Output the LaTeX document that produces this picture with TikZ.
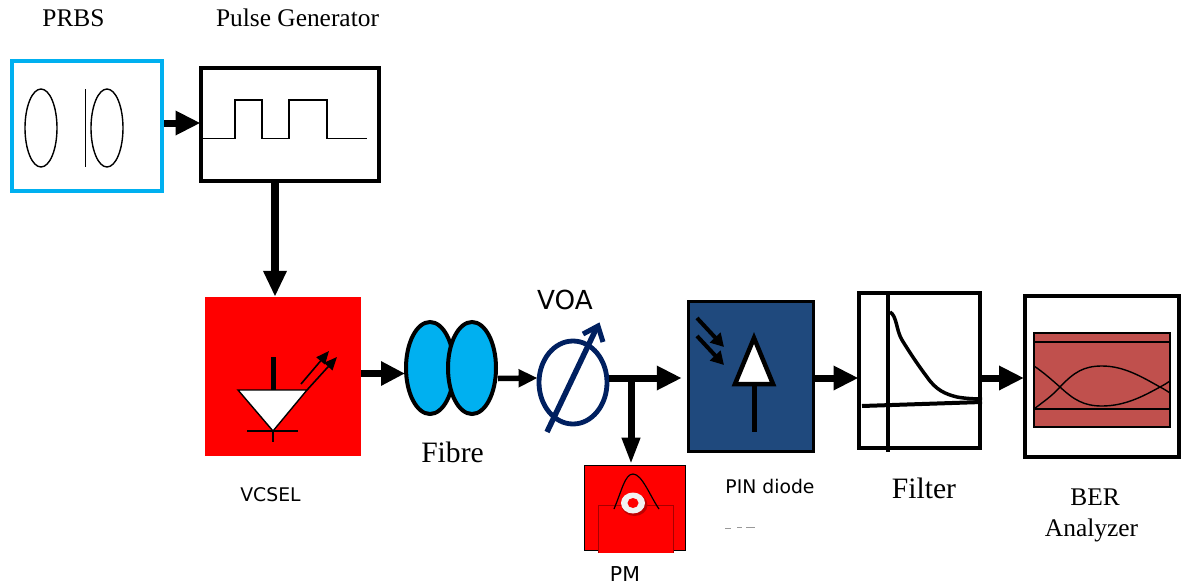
\documentclass[tikz,border=0pt]{standalone}
\usepackage{fontspec}
\setmainfont{Liberation Serif}
\newfontfamily\djv{DejaVu Sans}
\usetikzlibrary{arrows.meta,shapes.geometric}
\definecolor{cyanbox}{HTML}{00B0F0}
\definecolor{navyvoa}{HTML}{002060}
\definecolor{pinblue}{HTML}{1F497D}
\definecolor{berred}{HTML}{C0504D}
\tikzset{
  blockbox/.style={rectangle,draw=black,line width=4pt,inner sep=0pt,fill=white},
  serlab/.style={anchor=base,inner sep=0pt,font=\fontsize{25.4pt}{27pt}\selectfont},
  serbig/.style={anchor=base,inner sep=0pt,font=\fontsize{29.6pt}{31pt}\selectfont},
  sanslab/.style={anchor=base,inner sep=0pt,font=\djv\fontsize{18.8pt}{20pt}\selectfont},
  conn/.style={draw=black,line width=#1},
  conn/.default=7pt,
  thinline/.style={draw=black,line width=1.4pt},
  fibreell/.style={ellipse,draw=black,line width=4pt,fill=cyanbox,inner sep=0pt,minimum width=48pt,minimum height=92pt},
}
\begin{document}
\begin{tikzpicture}[x=1pt,y=-1pt]
\useasboundingbox (0,0) rectangle (1181,584);
\fill[white] (0,0) rectangle (1181,584);
% labels
\node[serlab] (lprbs) at (73.5,26) {PRBS};
\node[serlab] (lpulse) at (297.5,26) {Pulse Generator};
\node[serbig] (lfibre) at (452.5,462.7) {Fibre};
\node[serbig] (lfilter) at (924,498) {Filter};
\node[serlab] (lber) at (1095,505) {BER};
\node[serlab] (lana) at (1091.5,536) {Analyzer};
\node[sanslab] (lvcsel) at (270.5,501) {VCSEL};
\node[sanslab] (lpin) at (770,493) {PIN diode};
\node[anchor=base,inner sep=0pt,font=\djv\fontsize{20.5pt}{22pt}\selectfont] (lpm) at (625,581) {PM};
\node[anchor=base,inner sep=0pt,font=\djv\fontsize{26.2pt}{28pt}\selectfont] (lvoa) at (565,309) {VOA};
% faint remains of a clipped text
\draw[black!40,line width=.8pt] (725,528) -- (731,528) (737,527.5) -- (742,527.5) (746,527.5) -- (755,527.5);
% PRBS
\node[blockbox,draw=cyanbox,minimum width=150pt,minimum height=130pt] (prbs) at (87,125.5) {};
\draw[thinline] (41,128) ellipse [x radius=16,y radius=39];
\draw[thinline] (85.5,89) -- (85.5,167);
\draw[thinline] (107,128) ellipse [x radius=16,y radius=39];
% Pulse generator
\node[blockbox,minimum width=178pt,minimum height=113pt] (pulse) at (289.5,124.5) {};
\draw[thinline] (203,138.5) -- (235,138.5) -- (235,100) -- (262,100) -- (262,138.5) -- (289,138.5) -- (289,100) -- (327,100) -- (327,138.5) -- (367,138.5);
% VCSEL
\node[rectangle,fill=red,inner sep=0pt,minimum width=156pt,minimum height=159pt] (vcsel) at (283,376.5) {};
\draw[black,line width=5pt] (273.5,357) -- (273.5,390);
\draw[black,line width=1.4pt,fill=white] (238,390) -- (307,390) -- (273,431) -- cycle;
\draw[thinline] (247,431) -- (298,431) (273,431) -- (273,442);
\draw[draw=black,line width=1.6pt,-{Triangle[length=13pt,width=11pt]}] (301,384) -- (329,351);
\draw[draw=black,line width=1.6pt,-{Triangle[length=13pt,width=11pt]}] (307,390) -- (337,357);
% Fibre
\node[fibreell] (fib1) at (430,368) {};
\node[fibreell] (fib2) at (472,368) {};
% VOA
\node[ellipse,draw=navyvoa,line width=4.8pt,inner sep=0pt,minimum width=68pt,minimum height=83pt] (voa) at (573,382.5) {};
\draw[navyvoa,line width=5.5pt] (547,432) -- (597,327);
\draw[navyvoa,line width=5pt,line join=miter] (583,334) -- (598,326) -- (603,342);
% PIN
\node[blockbox,line width=3.5pt,fill=pinblue,minimum width=125pt,minimum height=150pt] (pin) at (751,376.5) {};
\draw[draw=black,line width=4pt,-{Triangle[length=13pt,width=14pt]}] (697,318) -- (724,347);
\draw[draw=black,line width=4pt,-{Triangle[length=13pt,width=14pt]}] (697,336) -- (724,365);
\draw[black,line width=5pt] (754,384) -- (754,432);
\draw[black,line width=4.5pt,fill=white,miter limit=10] (754,338) -- (773,384) -- (735,384) -- cycle;
% Filter
\node[blockbox,minimum width=121pt,minimum height=155pt] (filter) at (919,370) {};
\draw[black,line width=4.5pt] (888,292) -- (888,452);
\draw[black,line width=4pt] (862,406) -- (982,402);
\draw[black,line width=3.5pt] (890,312) .. controls (897,316) and (896,330) .. (902,340) .. controls (910,353) and (918,365) .. (927,377) .. controls (936,390) and (945,394) .. (957,397) .. controls (965,398.5) and (975,399) .. (982,399);
% BER
\node[blockbox,minimum width=154pt,minimum height=161pt] (ber) at (1102,376.5) {};
\node[rectangle,draw=black,line width=1.2pt,fill=berred,inner sep=0pt,minimum width=136pt,minimum height=94pt] (eye) at (1102,380) {};
\draw[thinline] (eye.west |- 0,342) -- (eye.east |- 0,342) (eye.west |- 0,409) -- (eye.east |- 0,409);
\draw[thinline] (1034,366) .. controls (1043,372) and (1052,380) .. (1060,387) .. controls (1074,400) and (1084,406) .. (1102,406) .. controls (1124,406) and (1142,397) .. (1160,387) .. controls (1164,389) and (1167,391) .. (1170,393);
\draw[thinline] (1034,409) .. controls (1043,402) and (1052,396) .. (1060,387) .. controls (1074,372) and (1084,366) .. (1102,366) .. controls (1124,366) and (1142,377) .. (1160,387) .. controls (1164,385) and (1167,383) .. (1170,381);
% PM
\node[rectangle,draw=black,line width=1pt,fill=red,inner sep=0pt,minimum width=101pt,minimum height=85pt] (pm) at (634.5,507.5) {};
\path[fill=red] (598,505) rectangle (673,553);
\draw[black!35!red,line width=.6pt] (598,553) -- (598,505) -- (673,505) -- (673,553);
\draw[black,line width=1.2pt] (614,509) .. controls (622,490) and (625,474) .. (633,474) .. controls (642,474) and (650,496) .. (659,509);
\fill[red!75!black] (634.5,505) ellipse [x radius=13,y radius=11];
\fill[white!95!black] (633,503) ellipse [x radius=12,y radius=10.5];
\fill[red] (633,503) ellipse [x radius=5.5,y radius=5];
% connectors
\draw[conn,-{Triangle[length=25pt,width=23pt]}] ([yshift=2.5pt]prbs.east) -- ([xshift=2pt,yshift=1.5pt]pulse.west);
\draw[conn=8pt,-{Triangle[length=26pt,width=22pt]}] ([xshift=-14.5pt]pulse.south) -- (vcsel.north -| 275,0);
\draw[conn,-{Triangle[length=24pt,width=23pt]}] ([yshift=3pt]vcsel.east) -- ([xshift=1pt]fib1.west |- 0,373.5);
\draw[conn=5.5pt,-{Triangle[length=19pt,width=17pt]}] (fib2.east |- 0,378.5) -- ([xshift=1pt]voa.west |- 0,378);
\draw[conn=7pt,-{Triangle[length=25pt,width=23pt]}] (voa.east |- 0,378) -- ([xshift=-5pt]pin.west |- 0,378);
\draw[conn=7pt,-{Triangle[length=27pt,width=17pt]}] (631,378) -- (pm.north -| 631,0);
\draw[conn,-{Triangle[length=25pt,width=23pt]}] (pin.east |- 0,378) -- ([xshift=2pt]filter.west |- 0,378);
\draw[conn,-{Triangle[length=25pt,width=23pt]}] (filter.east |- 0,378) -- ([xshift=1pt]ber.west |- 0,378);
\end{tikzpicture}
\end{document}
